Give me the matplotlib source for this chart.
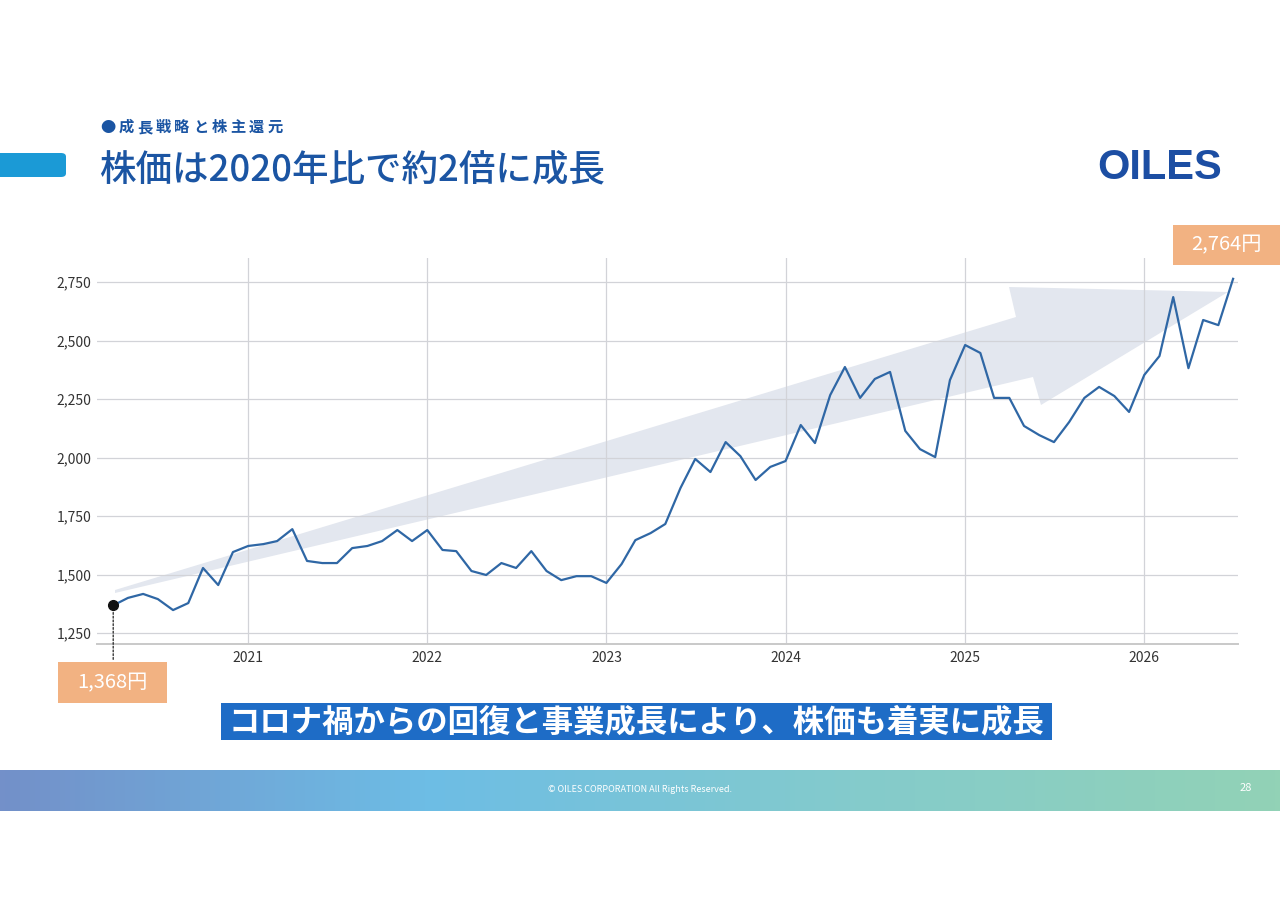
import numpy as np
import pandas as pd
import matplotlib
matplotlib.use("Agg")
import matplotlib.pyplot as plt
import matplotlib.dates as mdates
from matplotlib.patches import Rectangle, FancyBboxPatch, Polygon
from matplotlib.ticker import FuncFormatter
from matplotlib.colors import LinearSegmentedColormap

plt.rcParams['font.family'] = ['Noto Sans CJK JP', 'DejaVu Sans']

# monthly share price (yen), 2020-04 .. 2026-07
months = pd.date_range('2020-04-01', periods=76, freq='MS')
price = [1368, 1400, 1417, 1395, 1348, 1378, 1528, 1455, 1596,
         1622, 1630, 1643, 1694, 1558, 1549, 1549, 1613, 1622, 1643, 1690, 1643,
         1690, 1605, 1600, 1515, 1498, 1549, 1528, 1600, 1515, 1476, 1493, 1493,
         1464, 1545, 1647, 1677, 1716, 1870, 1994, 1938, 2066, 2006, 1904, 1960,
         1985, 2139, 2062, 2267, 2387, 2255, 2336, 2366, 2114, 2036, 2002, 2331,
         2481, 2447, 2255, 2255, 2135, 2096, 2066, 2152, 2255, 2302, 2263, 2195,
         2353, 2434, 2686, 2382, 2588, 2566, 2764]
y_ticks = [1250, 1500, 1750, 2000, 2250, 2500, 2750]
x_years = ['2021', '2022', '2023', '2024', '2025', '2026']

header = '●成長戦略と株主還元'
title = '株価は2020年比で約2倍に成長'
message = 'コロナ禍からの回復と事業成長により、株価も着実に成長'
footer = '© OILES CORPORATION All Rights Reserved.'
page = '28'

W, H = 1280, 905
blue_dark = '#1b55a3'
orange = '#f2b282'


def px(x, y):
    return x / W, 1 - y / H


fig = plt.figure(figsize=(W / 100, H / 100), dpi=100)
fig.patch.set_facecolor('white')

# ---- chart
ax = fig.add_axes([97 / W, 1 - 644 / H, (1238 - 97) / W, (644 - 258) / H])
ax.plot(months, price, color='#2f67a5', lw=1.6, zorder=3)
ax.plot(months[0], price[0], 'o', color='#111111', ms=7, zorder=4)

ax.set_xlim(pd.Timestamp('2020-02-28'), pd.Timestamp('2026-07-11'))
ax.set_ylim(1203, 2853)
ax.set_yticks(y_ticks)
ax.yaxis.set_major_formatter(FuncFormatter(lambda v, p: f'{int(v):,}'))
ax.set_xticks([pd.Timestamp(y + '-01-01') for y in x_years])
ax.xaxis.set_major_formatter(mdates.DateFormatter('%Y'))
ax.tick_params(length=0, labelsize=10, colors='#333333', pad=5)
ax.tick_params(axis='y', pad=4)
ax.set_axisbelow(True)
ax.grid(True, color='#d2d3d8', lw=0.9)
for s in ['top', 'right', 'left']:
    ax.spines[s].set_visible(False)
ax.spines['bottom'].set_color('#c9c9c9')
ax.spines['bottom'].set_linewidth(1.4)

# trend arrow (decoration, figure pixels)
arrow_px = [(115, 590), (1016, 317), (1009, 287), (1228, 292),
            (1041, 405), (1033, 377), (115, 593)]
arrow = Polygon([px(x, y) for x, y in arrow_px], closed=True,
                transform=fig.transFigure, facecolor='#e3e7ef',
                edgecolor='none', zorder=0.2)
ax.add_artist(arrow)

# dotted leader from the first point
ax.annotate('', xy=(months[0], price[0]), xycoords='data',
            xytext=(months[0], -0.047), textcoords=('data', 'axes fraction'),
            arrowprops=dict(arrowstyle='-', linestyle=(0, (1.5, 1.5)),
                            color='#222222', lw=0.9), annotation_clip=False)

# price badges
def badge(x0, y0, x1, y1, text):
    (fx0, fy1), (fx1, fy0) = px(x0, y0), px(x1, y1)
    fig.add_artist(Rectangle((fx0, fy0), fx1 - fx0, fy1 - fy0,
                             transform=fig.transFigure, facecolor=orange,
                             edgecolor='none'))
    fig.text((fx0 + fx1) / 2, (fy0 + fy1) / 2, text, color='white',
             fontsize=14.5, ha='center', va='center')

badge(58, 662, 167, 703, f'{price[0]:,}円')
badge(1173, 225, 1280, 265, f'{price[-1]:,}円')

# message banner
fx0, fy1 = px(221, 703)
fx1, fy0 = px(1052, 740)
fig.add_artist(Rectangle((fx0, fy0), fx1 - fx0, fy1 - fy0,
                         transform=fig.transFigure, facecolor='#1e6cc6',
                         edgecolor='none'))
fig.text((fx0 + fx1) / 2, (fy0 + fy1) / 2 - 0.001, message, color='white',
         fontsize=22.6, fontweight='bold', ha='center', va='center')

# ---- header (letter-spaced)
for i, ch in enumerate(header):
    fig.text(*px(100 + i * 18.6, 132), ch, color=blue_dark, fontsize=11,
             fontweight='bold', ha='left', va='baseline')
fig.text(*px(99, 170), title, color=blue_dark, fontsize=26.3,
         fontweight='medium', ha='left', va='center')
bx, by = px(-10, 177)
fig.add_artist(FancyBboxPatch((bx, by), (86 - 10) / W, 24 / H,
                              boxstyle='round,pad=0,rounding_size=0.004',
                              transform=fig.transFigure,
                              facecolor='#1b9ad6', edgecolor='none'))

# logo
fig.text(*px(1160, 168), 'OILES', color='#1c4ea3', fontsize=30,
         fontweight='bold', family='Liberation Sans', ha='center', va='center')

# ---- footer gradient band
fax = fig.add_axes([0, 1 - 811 / H, 1, 41 / H])
cmap = LinearSegmentedColormap.from_list(
    'band', ['#7390c9', '#6dbde5', '#84cbcc', '#92d2b6'])
fax.imshow(np.linspace(0, 1, 256)[None, :], aspect='auto', cmap=cmap,
           extent=[0, 1, 0, 1])
fax.set_axis_off()
fig.text(*px(640, 789), footer, color='white', fontsize=6.5,
         ha='center', va='center')
fig.text(*px(1246, 788), page, color='white', fontsize=8,
         ha='center', va='center')

fig.savefig('out.png', dpi=100)
